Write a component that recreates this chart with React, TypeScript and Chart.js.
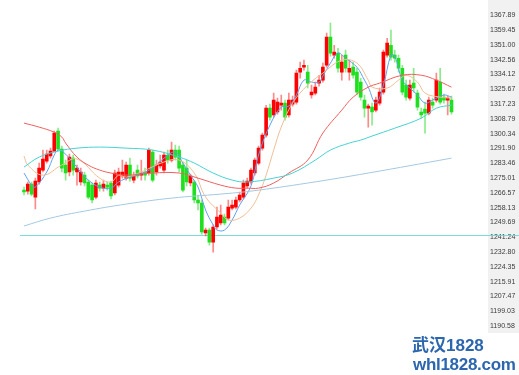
import React, { useEffect, useRef } from "react";
import { Chart, registerables } from "chart.js";
Chart.register(...registerables);

const opens = [
  1267.0, 1266.4, 1270.4, 1263.0, 1271.6, 1278.4, 1283.5, 1286.4, 1289.2, 1300.6,
  1290.4, 1281.3, 1277.3, 1285.2, 1277.3, 1271.6, 1275.5, 1271.6, 1269.8, 1263.0,
  1269.8, 1268.1, 1269.8, 1271.0, 1265.3, 1269.8, 1275.0, 1273.8, 1281.3, 1272.7,
  1278.4, 1275.5, 1277.3, 1276.7, 1288.7, 1277.3, 1280.7, 1278.4, 1287.0, 1284.1,
  1289.8, 1289.8, 1281.3, 1279.5, 1271.0, 1271.6, 1261.3, 1259.6, 1242.5, 1244.2,
  1237.3, 1245.9, 1248.2, 1251.6, 1251.0, 1256.7, 1257.3, 1261.3, 1263.0, 1269.3,
  1271.6, 1276.7, 1282.4, 1290.9, 1298.3, 1313.7, 1309.8, 1311.5, 1315.4, 1316.6,
  1309.8, 1316.0, 1317.2, 1334.3, 1337.1, 1334.3, 1321.2, 1322.3, 1328.0, 1329.7,
  1338.2, 1354.2, 1344.0, 1345.1, 1334.3, 1344.0, 1334.3, 1337.1, 1334.3, 1328.6,
  1318.3, 1313.7, 1314.3, 1312.6, 1316.6, 1322.9, 1344.0, 1349.6, 1344.0, 1342.2,
  1336.5, 1326.9, 1319.4, 1328.0, 1322.3, 1311.5, 1313.2, 1310.9, 1317.2, 1318.3,
  1328.6, 1320.0, 1318.3, 1318.3,
];
const highs = [
  1268.7, 1271.6, 1271.6, 1273.8, 1282.4, 1289.8, 1289.8, 1290.9, 1300.6, 1302.3,
  1292.1, 1284.1, 1287.5, 1287.0, 1281.3, 1279.5, 1277.3, 1272.7, 1271.0, 1272.7,
  1271.6, 1272.7, 1271.6, 1272.1, 1278.4, 1279.5, 1284.1, 1283.0, 1285.2, 1277.3,
  1281.3, 1284.1, 1279.5, 1290.9, 1289.8, 1284.1, 1287.0, 1288.7, 1289.8, 1294.4,
  1292.6, 1292.1, 1283.0, 1284.1, 1276.1, 1272.7, 1264.2, 1261.3, 1245.3, 1245.3,
  1247.1, 1257.3, 1258.4, 1253.3, 1261.3, 1261.3, 1263.0, 1265.9, 1272.7, 1273.8,
  1279.5, 1285.2, 1292.1, 1299.5, 1315.4, 1316.0, 1322.3, 1319.4, 1321.2, 1318.3,
  1322.3, 1320.6, 1335.4, 1340.0, 1341.1, 1338.2, 1326.9, 1328.6, 1332.5, 1339.4,
  1356.5, 1362.2, 1349.6, 1347.9, 1344.0, 1346.8, 1341.1, 1340.0, 1336.5, 1330.8,
  1321.2, 1316.0, 1316.6, 1320.0, 1325.2, 1346.8, 1353.6, 1358.2, 1346.8, 1344.0,
  1338.2, 1329.7, 1329.7, 1336.5, 1324.0, 1313.7, 1317.2, 1320.0, 1319.4, 1333.7,
  1336.5, 1321.7, 1320.6, 1320.6,
];
const lows = [
  1264.2, 1264.7, 1263.6, 1256.2, 1270.4, 1277.3, 1282.4, 1285.2, 1288.7, 1289.8,
  1277.3, 1272.7, 1275.0, 1275.5, 1269.8, 1269.8, 1269.3, 1261.9, 1259.6, 1261.9,
  1266.4, 1266.4, 1267.0, 1261.9, 1264.2, 1268.7, 1273.8, 1272.7, 1272.1, 1271.0,
  1273.8, 1272.7, 1272.7, 1275.5, 1271.6, 1275.5, 1279.5, 1276.7, 1282.4, 1283.0,
  1284.1, 1277.3, 1265.9, 1269.3, 1269.3, 1259.6, 1255.6, 1241.9, 1240.8, 1235.6,
  1231.6, 1244.8, 1247.1, 1247.1, 1249.9, 1255.6, 1256.2, 1260.2, 1261.9, 1268.1,
  1270.4, 1275.5, 1281.3, 1289.8, 1297.2, 1306.9, 1308.6, 1310.3, 1312.6, 1306.9,
  1308.6, 1314.9, 1316.0, 1330.8, 1335.4, 1325.2, 1319.4, 1321.2, 1326.3, 1328.6,
  1337.1, 1343.4, 1342.2, 1334.3, 1329.7, 1334.3, 1329.7, 1330.8, 1321.2, 1318.3,
  1308.6, 1302.9, 1304.0, 1311.5, 1315.4, 1321.7, 1342.8, 1341.1, 1340.0, 1334.3,
  1321.2, 1318.3, 1318.3, 1322.9, 1312.6, 1308.0, 1299.5, 1309.8, 1313.7, 1317.2,
  1316.0, 1316.6, 1309.8, 1310.3,
];
const closes = [
  1265.9, 1270.4, 1264.7, 1272.1, 1279.5, 1284.7, 1287.5, 1289.2, 1299.5, 1290.4,
  1279.5, 1276.7, 1285.8, 1278.4, 1279.5, 1277.3, 1271.0, 1263.0, 1261.3, 1271.0,
  1268.1, 1270.4, 1268.7, 1263.6, 1276.7, 1277.3, 1277.3, 1281.3, 1273.8, 1275.0,
  1275.0, 1276.7, 1275.5, 1289.8, 1272.7, 1281.3, 1283.0, 1287.0, 1284.1, 1289.8,
  1285.8, 1279.5, 1267.0, 1271.6, 1275.0, 1261.3, 1259.6, 1243.1, 1244.2, 1237.3,
  1245.9, 1251.6, 1252.7, 1248.2, 1257.3, 1258.4, 1261.3, 1264.2, 1271.0, 1272.1,
  1278.4, 1284.1, 1290.9, 1298.3, 1313.7, 1308.6, 1318.3, 1317.2, 1316.6, 1308.6,
  1318.3, 1318.3, 1333.7, 1336.5, 1338.2, 1328.0, 1322.9, 1325.7, 1329.7, 1337.1,
  1354.2, 1345.1, 1345.7, 1336.5, 1340.0, 1336.5, 1336.5, 1332.5, 1322.9, 1320.0,
  1313.7, 1314.9, 1311.5, 1318.3, 1322.9, 1345.7, 1350.8, 1342.8, 1342.2, 1336.5,
  1322.9, 1320.0, 1326.9, 1325.2, 1314.3, 1309.8, 1310.9, 1318.3, 1315.4, 1329.7,
  1317.2, 1318.3, 1319.4, 1311.5,
];

// Moving-average lines: [candle index, value]
const ma5: [number, number][] = [
  [0, 1276.7], [2, 1269.8], [3, 1268.7], [6, 1277.3], [8, 1287.0], [9, 1289.8], [10, 1289.2],
  [12, 1285.2], [15, 1277.3], [17, 1272.7], [20, 1268.7], [23, 1268.1], [25, 1271.6], [28, 1274.4],
  [30, 1275.5], [34, 1279.5], [37, 1285.2], [40, 1288.7], [42, 1282.4], [44, 1275.5], [46, 1268.7],
  [48, 1255.6], [50, 1247.1], [51, 1244.2], [53, 1244.2], [55, 1249.9], [57, 1258.4], [60, 1269.3],
  [62, 1287.0], [65, 1304.0], [68, 1314.3], [70, 1314.9], [72, 1321.2], [74, 1329.7], [76, 1328.6],
  [78, 1328.6], [79, 1332.0], [81, 1339.4], [83, 1345.1], [85, 1342.2], [88, 1337.1], [90, 1329.7],
  [91, 1325.7], [93, 1316.6], [95, 1326.9], [97, 1344.0], [98, 1343.4], [100, 1329.7], [102, 1325.2],
  [104, 1321.2], [106, 1316.6], [108, 1318.3], [111, 1321.2], [113, 1320.0],
];
const ma10: [number, number][] = [
  [0, 1286.4], [1, 1281.3], [5, 1275.5], [10, 1281.3], [14, 1284.7], [20, 1273.8], [23, 1271.6],
  [25, 1275.5], [27, 1274.4], [31, 1277.3], [37, 1283.0], [41, 1284.1], [45, 1276.7], [48, 1263.0],
  [52, 1253.9], [54, 1249.9], [57, 1251.0], [60, 1256.7], [62, 1264.2], [64, 1275.5], [66, 1289.8],
  [68, 1302.9], [71, 1316.6], [75, 1326.9], [79, 1333.7], [84, 1341.1], [88, 1339.4], [91, 1329.7],
  [92, 1325.7], [96, 1325.2], [99, 1329.7], [101, 1332.5], [104, 1328.6], [106, 1322.3], [110, 1320.0],
  [113, 1319.4],
];
const ma20: [number, number][] = [
  [0, 1305.2], [4, 1302.9], [8, 1300.0], [10, 1297.2], [11, 1293.8], [14, 1285.8], [17, 1281.2],
  [20, 1278.4], [23, 1276.7], [27, 1275.5], [34, 1276.7], [41, 1276.7], [46, 1273.8], [52, 1269.8],
  [56, 1268.1], [59, 1268.1], [62, 1268.1], [66, 1271.0], [70, 1276.7], [75, 1284.1], [79, 1299.5],
  [84, 1312.6], [87, 1320.0], [91, 1325.7], [94, 1328.0], [100, 1332.5], [105, 1332.5], [109, 1329.7],
  [113, 1325.7],
];
const ma60: [number, number][] = [
  [0, 1280.1], [4, 1285.8], [9, 1289.2], [14, 1290.9], [20, 1291.5], [27, 1290.9], [34, 1289.8],
  [41, 1285.8], [45, 1282.4], [50, 1276.7], [55, 1272.7], [59, 1271.6], [66, 1273.8], [71, 1276.7],
  [77, 1284.1], [81, 1289.8], [86, 1293.8], [89, 1295.5], [92, 1297.8], [98, 1302.3], [105, 1308.0],
  [109, 1313.7], [113, 1315.4],
];
const ma120: [number, number][] = [
  [0, 1246.5], [7, 1251.0], [16, 1255.0], [27, 1259.0], [39, 1262.4], [52, 1264.7], [60, 1266.4],
  [75, 1271.0], [91, 1276.7], [113, 1285.2],
];

const yTicks = [
  1367.89, 1359.45, 1351.0, 1342.56, 1334.12, 1325.67, 1317.23, 1308.79, 1300.34, 1291.9, 1283.46,
  1275.01, 1266.57, 1258.13, 1249.69, 1241.24, 1232.8, 1224.35, 1215.91, 1207.47, 1199.03, 1190.58,
];
const refLevel = 1241.24;
const Y_MIN = 1186.02;
const Y_MAX = 1371.88;
const X_MIN = -1.06;
const X_MAX = 122.65;

const UP = "#ff0000";
const DOWN = "#1ee01e";
const UP_WICK = "rgba(255,40,40,0.55)";
const DOWN_WICK = "rgba(40,220,40,0.55)";

const panelPlugin = {
  id: "panelPlugin",
  beforeDraw(chart: any) {
    const { ctx, chartArea, scales } = chart;
    const y = scales.y;
    ctx.save();
    ctx.fillStyle = "#f1f1f1";
    ctx.fillRect(y.left, 0, chart.width - y.left, chartArea.bottom + 1);
    ctx.restore();
  },
  beforeDatasetsDraw(chart: any) {
    const { ctx, chartArea, scales } = chart;
    const py = Math.round(scales.y.getPixelForValue(refLevel)) + 0.5;
    ctx.save();
    ctx.strokeStyle = "rgba(110,215,215,0.9)";
    ctx.lineWidth = 1;
    ctx.beginPath();
    ctx.moveTo(chartArea.left, py);
    ctx.lineTo(chart.width, py);
    ctx.stroke();
    ctx.restore();
  },
};

function lineDs(pts: [number, number][], color: string) {
  return {
    type: "line" as const,
    data: pts.map(([x, y]) => ({ x, y })),
    borderColor: color,
    borderWidth: 1,
    pointRadius: 0,
    tension: 0.4,
    fill: false,
    order: 0,
  };
}

export default function App() {
  const ref = useRef<HTMLCanvasElement | null>(null);
  useEffect(() => {
    if (!ref.current) return;
    const idx = opens.map((_, i) => i);
    const isUp = (i: number) => closes[i] >= opens[i];
    const chart = new Chart(ref.current, {
      type: "bar",
      data: {
        datasets: [
          {
            type: "bar",
            data: idx.map((i) => ({ x: i, y: [lows[i], highs[i]] })) as any,
            backgroundColor: idx.map((i) => (isUp(i) ? UP_WICK : DOWN_WICK)),
            barThickness: 1,
            grouped: false,
            borderWidth: 0,
            order: 2,
          } as any,
          {
            type: "bar",
            data: idx.map((i) => ({ x: i, y: [opens[i], closes[i]] })) as any,
            backgroundColor: idx.map((i) => (isUp(i) ? UP : DOWN)),
            barThickness: 3,
            grouped: false,
            borderWidth: 0,
            minBarLength: 1,
            order: 1,
          } as any,
          lineDs(ma120, "rgba(165,200,225,1)") as any,
          lineDs(ma60, "rgba(70,210,210,1)") as any,
          lineDs(ma20, "rgba(240,95,95,1)") as any,
          lineDs(ma10, "rgba(240,190,150,1)") as any,
          lineDs(ma5, "rgba(95,160,240,1)") as any,
        ],
      },
      options: {
        responsive: false,
        animation: false,
        layout: { padding: { left: 20, top: 6, bottom: 43, right: 0 } },
        plugins: { legend: { display: false }, tooltip: { enabled: false } },
        scales: {
          x: {
            type: "linear",
            min: X_MIN,
            max: X_MAX,
            offset: false,
            display: false,
            grid: { display: false },
          },
          y: {
            position: "right",
            min: Y_MIN,
            max: Y_MAX,
            grid: { display: false, drawTicks: false },
            border: { display: false },
            afterBuildTicks: (s: any) => {
              s.ticks = yTicks.map((v) => ({ value: v }));
            },
            afterFit: (s: any) => {
              s.width = 31;
            },
            ticks: {
              autoSkip: false,
              padding: 2,
              labelOffset: 2,
              color: "#3a3a3a",
              font: { size: 7, family: "Liberation Sans" },
              callback: (v: any) => Number(v).toFixed(2),
            },
          },
        },
      },
      plugins: [panelPlugin],
    });
    return () => chart.destroy();
  }, []);

  const wm = {
    position: "absolute" as const,
    fontFamily: "'Liberation Sans', 'Noto Sans CJK SC', sans-serif",
    fontWeight: 700,
    color: "#2b66ae",
    whiteSpace: "nowrap" as const,
  };

  return (
    <div style={{ position: "fixed", left: 0, top: 0, width: 519, height: 375, background: "#fff" }}>
      <canvas ref={ref} width={519} height={375} style={{ display: "block" }} />
      <div style={{ ...wm, left: 412, top: 337, fontSize: 17, lineHeight: "18px" }}>武汉1828</div>
      <div style={{ ...wm, left: 413, top: 356, fontSize: 17, lineHeight: "18px", letterSpacing: -0.3 }}>
        whl1828.com
      </div>
    </div>
  );
}
